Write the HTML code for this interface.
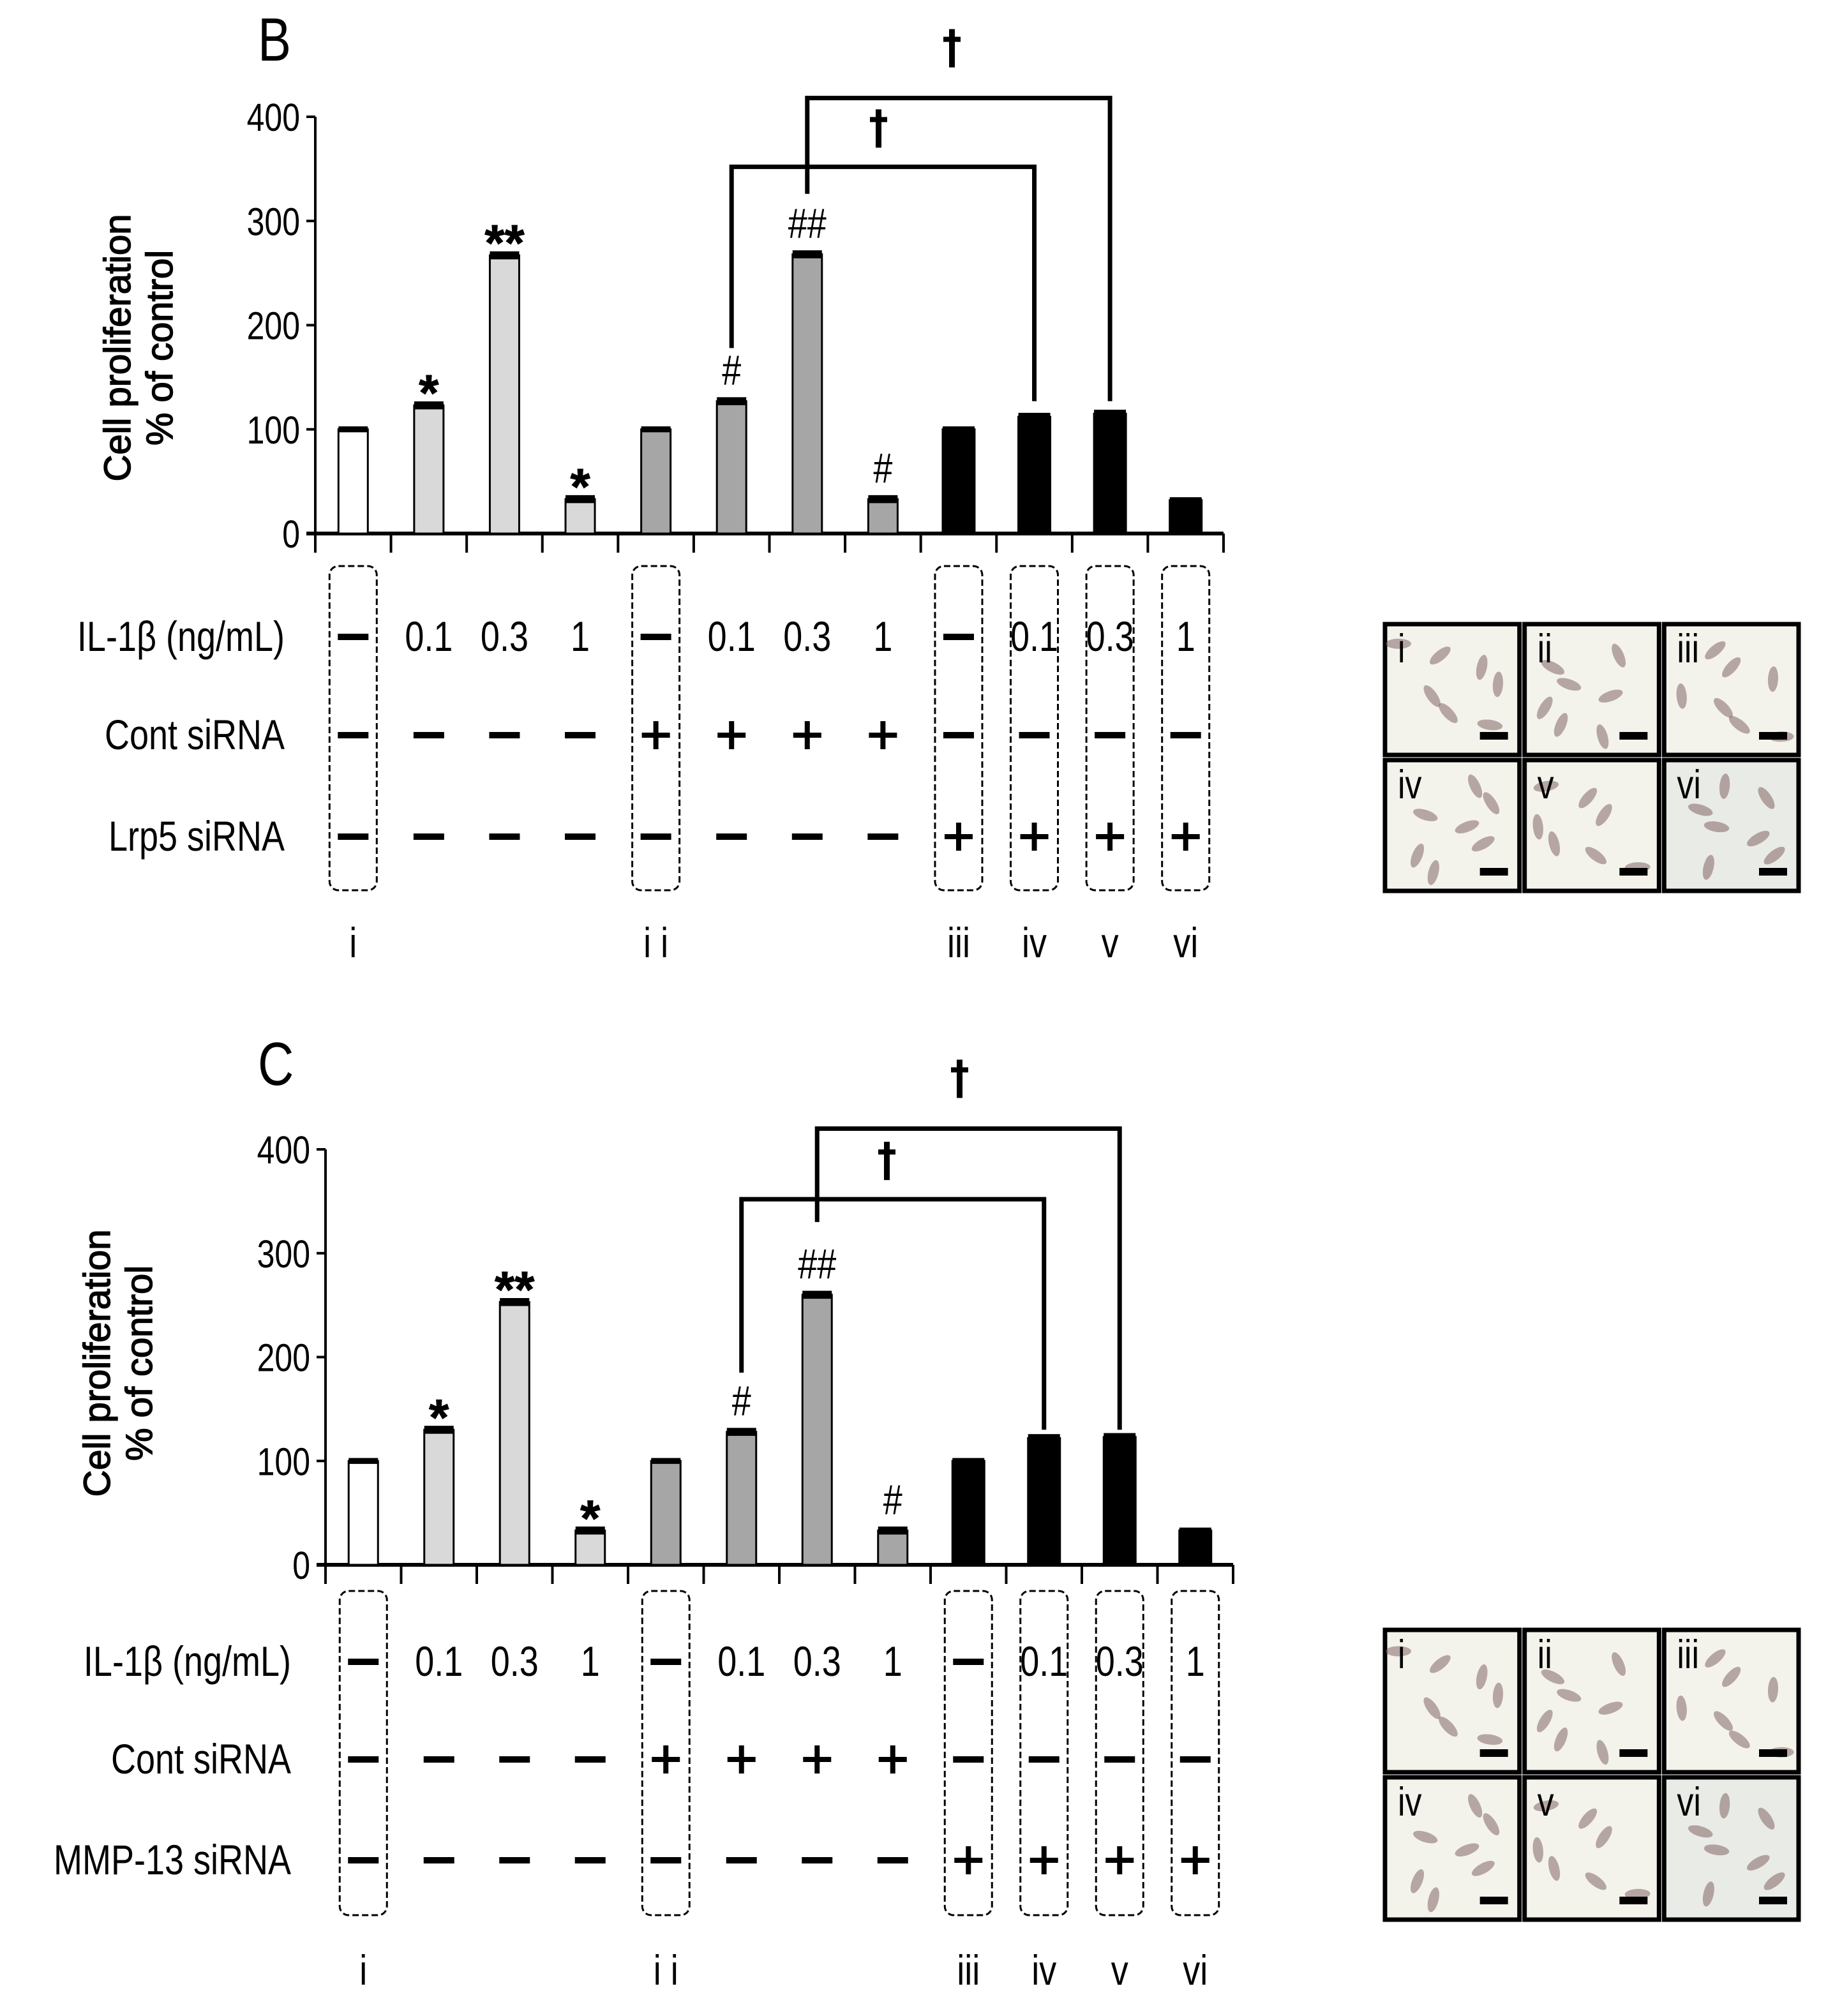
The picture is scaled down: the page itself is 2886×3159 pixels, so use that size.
<!DOCTYPE html>
<html><head><meta charset="utf-8">
<style>
html,body{margin:0;padding:0;background:#fff;}
svg{display:block;}
text{font-family:"Liberation Sans",sans-serif;fill:#000;}
</style></head>
<body>
<svg id="fig" xmlns="http://www.w3.org/2000/svg" width="2886" height="3159" viewBox="0 0 2886 3159">
<rect width="2886" height="3159" fill="#fff"/>
</svg>
<script>
const categories = ['i','0.1','0.3','1','ii','0.1','0.3','1','iii','iv','v','vi'];
const valuesB = [100,123,267,33,100,127,268,33,100,112,115,32];
const errorsB = [1,2,2,2,1,2,2,2,1,2,2,1];
const valuesC = [100,130,253,33,100,128,260,33,100,122,123,33];
const errorsC = [1,2,2,2,1,2,2,2,1,2,2,1];
const yTicks = [0,100,200,300,400];
const yTickLabels = ['0','100','200','300','400'];
const sigMarks = ['','*','**','*','','#','##','#','','','',''];
const il1bRow = ['-','0.1','0.3','1','-','0.1','0.3','1','-','0.1','0.3','1'];
const contRow = ['-','-','-','-','+','+','+','+','-','-','-','-'];
const knockRow = ['-','-','-','-','-','-','-','-','+','+','+','+'];
const boxedSlots = [0,4,8,9,10,11];
const romanLabels = ['i','i i','iii','iv','v','vi'];

const NS='http://www.w3.org/2000/svg';
const svg=document.getElementById('fig');
function mk(tag,attrs,parent){const e=document.createElementNS(NS,tag);for(const k in attrs)e.setAttribute(k,attrs[k]);(parent||svg).appendChild(e);return e;}
function txt(s,attrs,parent){const e=mk('text',attrs,parent);e.textContent=s;return e;}
// tall (vertically stretched) text
function ttxt(s,x,y,size,anchor,parent){
  const e=mk('text',{x:0,y:0,'font-size':size,'text-anchor':anchor,transform:`translate(${x},${y}) scale(1,1.22)`},parent);
  e.textContent=s;return e;
}

function groupFill(i){ if(i===0) return '#ffffff'; if(i<4) return '#d9d9d9'; if(i<8) return '#a6a6a6'; return '#000000'; }

function drawPanel(p){
  const g=mk('g',{});
  
  
  const n=categories.length;
  const slot=(p.right-p.axisX)/n;
  const xC=i=>p.axisX+slot*(i+0.5);
  const yS=v=>p.y0-(p.y0-p.y400)*v/400;
  const L=ttxt(p.letter,p.letterX,p.letterY,78,'start',g);
  
  
  const ya=mk('line',{x1:p.axisX,y1:yS(400),x2:p.axisX,y2:p.y0,stroke:'#000','stroke-width':4},g);
  
  
  yTicks.forEach((t,k)=>{
    const tl=mk('line',{x1:p.axisX-14,y1:yS(t),x2:p.axisX,y2:yS(t),stroke:'#000','stroke-width':4},g);
    
    
    const lb=ttxt(yTickLabels[k],p.axisX-24,yS(t)+22,50,'end',g);
    
    
  });
  const xa=mk('line',{x1:p.axisX-14,y1:p.y0,x2:p.right,y2:p.y0,stroke:'#000','stroke-width':6},g);
  
  
  for(let i=0;i<=n;i++){
    const t=mk('line',{x1:p.axisX+slot*i,y1:p.y0,x2:p.axisX+slot*i,y2:p.y0+30,stroke:'#000','stroke-width':4},g);
    
    
  }
  const yt=mk('g',{transform:`translate(${p.titleX},${p.titleY}) rotate(-90)`},g);
  
  
  txt('Cell proliferation',{x:0,y:0,'font-size':58,'text-anchor':'middle',stroke:'#000','stroke-width':1.5},yt);
  txt('% of control',{x:0,y:66,'font-size':58,'text-anchor':'middle',stroke:'#000','stroke-width':1.5},yt);
  p.values.forEach((v,i)=>{
    const w=i>=8?50:46;
    const b=mk('rect',{x:xC(i)-w/2,y:yS(v),width:w,height:p.y0-yS(v),fill:groupFill(i),stroke:'#000','stroke-width':3},g);
    
    
    const e=p.errors[i];
    const c=mk('rect',{x:xC(i)-w/2,y:yS(v+e)-3,width:w,height:Math.max(7,yS(v-e)-yS(v+e)+6),fill:'#000'},g);
    
    
    if(sigMarks[i]){
      const star=sigMarks[i].includes('*');
      const s=star
        ? txt(sigMarks[i],{x:xC(i),y:yS(v)+8,'font-size':80,'text-anchor':'middle','font-weight':'bold',stroke:'#000','stroke-width':1},g)
        : ttxt(sigMarks[i],xC(i),yS(v)-26,54,'middle',g);
      
      
    }
  });
  p.brackets.forEach(br=>{
    const x1=xC(br.from),x2=xC(br.to);
    const pl=mk('polyline',{points:`${x1},${yS(br.lowL)} ${x1},${yS(br.top)} ${x2},${yS(br.top)} ${x2},${yS(br.lowR)}`,fill:'none',stroke:'#000','stroke-width':7},g);
    
    
    const dx=br.dagX;
    const dg=mk('g',{},g);
    
    
    mk('rect',{x:dx-4,y:yS(br.top)-br.dagOff-60,width:9,height:60,fill:'#000'},dg);
    mk('rect',{x:dx-13,y:yS(br.top)-br.dagOff-48,width:27,height:8,fill:'#000'},dg);
  });
  const tg=mk('g',{},g);
  
  
  boxedSlots.forEach(i=>{
    const r=mk('rect',{x:xC(i)-37,y:p.boxTop,width:74,height:p.boxBot-p.boxTop,rx:14,fill:'none',stroke:'#000','stroke-width':3,'stroke-dasharray':'10 5'},tg);
    
    
  });
  const rows=[[p.rowLabels[0],il1bRow,p.rowY[0]],[p.rowLabels[1],contRow,p.rowY[1]],[p.rowLabels[2],knockRow,p.rowY[2]]];
  rows.forEach(([lab,arr,y])=>{
    const l=ttxt(lab,p.labelRight,y+22,54,'end',tg);
    
    
    arr.forEach((s,i)=>{
      const x=xC(i);
      if(s==='-'){
        const d=mk('rect',{x:x-24,y:y-5,width:48,height:10,fill:'#000'},tg);
        
        
      } else if(s==='+'){
        const pg=mk('g',{},tg);
        
        
        mk('rect',{x:x-22,y:y-4,width:44,height:8,fill:'#000'},pg);
        mk('rect',{x:x-4,y:y-22,width:8,height:44,fill:'#000'},pg);
      } else {
        const t=ttxt(s,x,y+22,54,'middle',tg);
        
        
      }
    });
  });
  boxedSlots.forEach((i,k)=>{
    const t=ttxt(romanLabels[k],xC(i),p.romanY,54,'middle',tg);
    
    
  });
}

drawPanel({name:'panel-b-chart',letter:'B',letterX:404,letterY:95,axisX:494,right:1917,y0:836,y400:183,
  titleX:204,titleY:545,values:valuesB,errors:errorsB,
  brackets:[{from:5,to:9,top:352,lowL:178,lowR:127,dagX:1376,dagOff:30},{from:6,to:10,top:418,lowL:326,lowR:127,dagX:1491,dagOff:48}],
  boxTop:887,boxBot:1395,rowY:[998,1152,1311],rowLabels:['IL-1β (ng/mL)','Cont siRNA','Lrp5 siRNA'],labelRight:446,romanY:1500});
drawPanel({name:'panel-c-chart',letter:'C',letterX:404,letterY:1700,axisX:510,right:1932,y0:2452,y400:1801,
  titleX:172,titleY:2136,values:valuesC,errors:errorsC,
  brackets:[{from:5,to:9,top:352,lowL:185,lowR:130,dagX:1389,dagOff:30},{from:6,to:10,top:420,lowL:330,lowR:130,dagX:1503,dagOff:48}],
  boxTop:2493,boxBot:3001,rowY:[2604,2757,2915],rowLabels:['IL-1β (ng/mL)','Cont siRNA','MMP-13 siRNA'],labelRight:456,romanY:3110});

const photoLabels=['i','ii','iii','iv','v','vi'];
function drawPhotos(name,x0,y0,x1,y1){
  const g=mk('g',{});
  
  
  const cw=(x1-x0)/3,ch=(y1-y0)/2;
  for(let r=0;r<2;r++)for(let c=0;c<3;c++){
    const k=r*3+c;const x=x0+c*cw+4,y=y0+r*ch+4,w=cw-8,h=ch-8;
    const cell=mk('g',{},g);
    
    
    mk('rect',{x:x,y:y,width:w,height:h,fill:k===5?'#e9ebe6':'#f3f3ec',stroke:'#000','stroke-width':7},cell);
    for(let j=0;j<7;j++){
      const fx=((j*37+k*23)%80+10)/100, fy=((j*53+k*31)%75+15)/100;
      mk('ellipse',{cx:x+w*fx,cy:y+h*fy,rx:8,ry:20,fill:'#7a5a5a','fill-opacity':0.5,transform:`rotate(${(j*47+k*19)%180-90} ${x+w*fx} ${y+h*fy})`},cell);
    }
    ttxt(photoLabels[k],x+20,y+60,52,'start',cell);
    mk('rect',{x:x+w-62,y:y+h-36,width:44,height:12,fill:'#000'},cell);
  }
}
drawPhotos('micrographs-b',2166,974,2822,1400);
drawPhotos('micrographs-c',2166,2550,2822,3012);
</script>
</body></html>
